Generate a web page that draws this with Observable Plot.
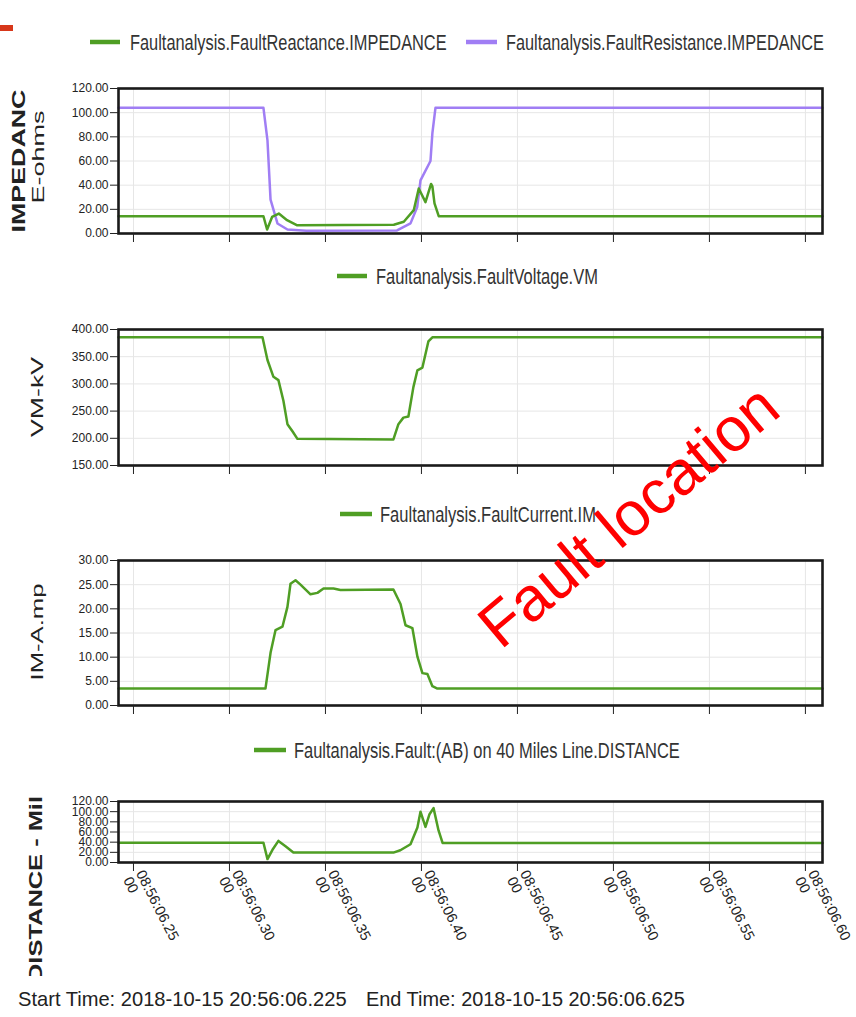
<!DOCTYPE html>
<html><head><meta charset="utf-8">
<script src="https://cdn.jsdelivr.net/npm/d3@7"></script>
<script src="https://cdn.jsdelivr.net/npm/@observablehq/plot@0.6"></script>
<style>
body{margin:0;background:#fff;}
#page{position:relative;width:856px;height:1017px;overflow:hidden;background:#fff;}
#page svg{position:absolute;left:0;}
</style></head><body><div id="page"></div>
<script>
// ---- data (time = ms after 20:56:06) ----
const xTicks = [250, 300, 350, 400, 450, 500, 550, 600];
const xTickLabels = ["08:56:06.25","08:56:06.30","08:56:06.35","08:56:06.40","08:56:06.45","08:56:06.50","08:56:06.55","08:56:06.60"];
const xTickLabels2 = ["00","00","00","00","00","00","00","00"];
const xDomain = [242.2, 608.9];

const reactanceT = [242.2, 317.7, 319.6, 322.2, 325.7, 330, 335.3, 360, 385.6, 390.8, 396, 398.6, 402.1, 405, 405.7, 406.8, 409, 420, 608.9];
const reactanceV = [14.3, 14.3, 3.3, 13.7, 16.5, 11, 6.8, 7, 7.2, 9.7, 19.3, 37.2, 26, 41, 39, 25, 14.3, 14.3, 14.3];

const resistanceT = [242.2, 317.7, 319.8, 321.4, 325, 330.2, 340, 387.3, 394.3, 397.8, 399.5, 404.7, 405.7, 407.3, 608.9];
const resistanceV = [104, 104, 77, 28, 8.3, 3.3, 2.3, 2.5, 8.4, 22, 44, 60, 83, 104, 104];

const voltageT = [242.2, 317.2, 319.8, 322.9, 325.5, 328.1, 330.2, 332.8, 335.4, 385.4, 388, 390.6, 393.2, 395.8, 397.9, 400.5, 403.6, 405.7, 608.9];
const voltageV = [385.6, 385.6, 344, 313, 307, 269, 226, 213, 199, 198, 226, 238, 240, 294, 325, 330, 378, 385.6, 385.6];

const currentT = [242.2, 318.75, 321.4, 324, 327.6, 330.2, 331.8, 334.4, 337, 342.2, 345.8, 349, 354.2, 357.8, 385.4, 389.1, 391.7, 395.3, 397.9, 400.5, 403.1, 405.7, 408.3, 608.9];
const currentV = [3.5, 3.5, 10.9, 15.6, 16.3, 20.4, 25.2, 25.9, 25.0, 23, 23.3, 24.2, 24.2, 23.9, 24, 21, 16.6, 16, 10.1, 6.7, 6.5, 4, 3.5, 3.5];

const distanceT = [242.2, 317.7, 319.8, 322.4, 325.5, 329.2, 333.3, 385.4, 389, 394.3, 397.9, 399.5, 402.1, 404.2, 406.3, 408.9, 411, 608.9];
const distanceV = [39, 39, 6.7, 25, 42.5, 32, 19.5, 19.5, 24, 36, 69, 100, 70, 95, 107, 63, 38.5, 38.5];

const impedanceTicks = [0, 20, 40, 60, 80, 100, 120];
const voltageTicks = [150, 200, 250, 300, 350, 400];
const currentTicks = [0, 5, 10, 15, 20, 25, 30];
const distanceTicks = [0, 20, 40, 60, 80, 100, 120];

const legendNames = [
  "Faultanalysis.FaultReactance.IMPEDANCE",
  "Faultanalysis.FaultResistance.IMPEDANCE",
  "Faultanalysis.FaultVoltage.VM",
  "Faultanalysis.FaultCurrent.IM",
  "Faultanalysis.Fault:(AB) on 40 Miles Line.DISTANCE"
];
const startText = "Start Time: 2018-10-15 20:56:06.225";
const endText = "End Time: 2018-10-15 20:56:06.625";
const annotation = "Fault location";

const GREEN = "#4f9e24", PURPLE = "#a07ef4";
const FONT = "'Liberation Sans Narrow','Arial Narrow','Liberation Sans',Arial,sans-serif";

const zip = (T, V) => T.map((t, i) => ({t, v: V[i]}));

const page = document.getElementById("page");

function panel({top, bottom, yDomain, yTicks, series, showX}) {
  const mt = 12, mb = showX ? 120 : 14;
  const h = bottom - top;
  const marks = [
    Plot.gridX(xTicks, {stroke: "#e6e6e6", strokeOpacity: 1}),
    Plot.gridY(yTicks, {stroke: "#e6e6e6", strokeOpacity: 1}),
    ...series.map(s => Plot.line(s.data, {x: "t", y: "v", stroke: s.color, strokeWidth: 2.5})),
    Plot.frame({stroke: "#1a1a1a", strokeWidth: 2.6}),
    Plot.axisY(yTicks, {tickSize: 8, tickPadding: 2, tickFormat: d3.format(".2f"), label: null, fontSize: 12}),
    Plot.axisX(xTicks, {tickSize: 9, label: null, tickFormat: showX ? (d => xTickLabels[xTicks.indexOf(d)] + "\n" + xTickLabels2[xTicks.indexOf(d)]) : (() => ""), tickRotate: showX ? 63 : 0, fontSize: 14.5, tickPadding: 3})
  ];
  const p = Plot.plot({
    width: 856, height: mt + h + mb,
    marginTop: mt, marginBottom: mb, marginLeft: 118, marginRight: 34,
    x: {domain: xDomain},
    y: {domain: yDomain},
    style: {fontFamily: FONT, color: "#222", background: "transparent", overflow: "visible"},
    marks
  });
  p.style.top = (top - mt) + "px";
  page.appendChild(p);
}

panel({top: 88, bottom: 233, yDomain: [0, 120], yTicks: impedanceTicks,
  series: [{data: zip(resistanceT, resistanceV), color: PURPLE}, {data: zip(reactanceT, reactanceV), color: GREEN}]});
panel({top: 329, bottom: 465, yDomain: [150, 400], yTicks: voltageTicks,
  series: [{data: zip(voltageT, voltageV), color: GREEN}]});
panel({top: 560, bottom: 705, yDomain: [0, 30], yTicks: currentTicks,
  series: [{data: zip(currentT, currentV), color: GREEN}]});
panel({top: 801, bottom: 862, yDomain: [0, 120], yTicks: distanceTicks,
  series: [{data: zip(distanceT, distanceV), color: GREEN}], showX: true});

// ---- overlay: legends, titles, footer, annotation ----
const svg = d3.select(page).append("svg").attr("width", 856).attr("height", 1017)
  .style("top", "0px").style("pointer-events", "none");

svg.append("rect").attr("x", 0).attr("y", 25).attr("width", 13).attr("height", 6).attr("fill", "#d7371a");

// horizontally condensed text: natural text measured, then scaled to the target width
function squeezed(x, y, targetW, txt, size, fill) {
  const g = svg.append("g");
  const t = g.append("text").attr("x", 0).attr("y", 0)
    .attr("font-family", "'Liberation Sans',Arial,sans-serif")
    .attr("font-size", size).attr("fill", fill).text(txt);
  const w = t.node().getComputedTextLength() || targetW;
  g.attr("transform", `translate(${x},${y}) scale(${targetW / w},1)`);
}
function legend(x0, x1, tx, tLen, y, name, color) {
  svg.append("line").attr("x1", x0).attr("x2", x1).attr("y1", y).attr("y2", y)
    .attr("stroke", color).attr("stroke-width", 4.5);
  squeezed(tx, y + 8, tLen, name, 22, "#333");
}
legend(90, 120, 130, 317, 42, legendNames[0], GREEN);
legend(466, 497, 506, 318, 42, legendNames[1], PURPLE);
legend(337, 367, 376, 222, 276, legendNames[2], GREEN);
legend(340, 372, 380, 216, 514, legendNames[3], GREEN);
legend(254, 286, 294, 386, 750, legendNames[4], GREEN);

function ytitle(cx, cy, len, txt, size, weight, parent) {
  (parent || svg).append("text").attr("transform", `translate(${cx},${cy}) rotate(-90)`)
    .attr("text-anchor", "middle").attr("dominant-baseline", "central")
    .attr("font-family", "'Liberation Sans',Arial,sans-serif").attr("font-size", size)
    .attr("font-weight", weight).attr("fill", "#222")
    .attr("textLength", len).attr("lengthAdjust", "spacingAndGlyphs").text(txt);
}
svg.append("clipPath").attr("id", "clipD").attr("clipPathUnits", "userSpaceOnUse")
  .append("rect").attr("x", 0).attr("y", 700).attr("width", 100).attr("height", 276);
ytitle(19, 161, 143, "IMPEDANC", 18, "bold");
ytitle(38, 157, 93, "E-ohms", 16, "normal");
ytitle(37, 397, 80, "VM-kV", 17, "normal");
ytitle(37, 632, 97, "IM-A.mp", 17, "normal");
ytitle(35, 889, 186, "DISTANCE - Mil", 19, "bold", svg.append("g").attr("clip-path", "url(#clipD)"));

squeezed(18, 1006, 329, startText, 21, "#222");
squeezed(366, 1006, 319, endText, 21, "#222");

svg.append("text").attr("transform", "translate(642,532) rotate(-40)").attr("text-anchor", "middle")
  .attr("font-family", "'Liberation Sans',Arial,sans-serif").attr("font-size", 62).attr("fill", "#ff0000")
  .text(annotation);
</script></body></html>
